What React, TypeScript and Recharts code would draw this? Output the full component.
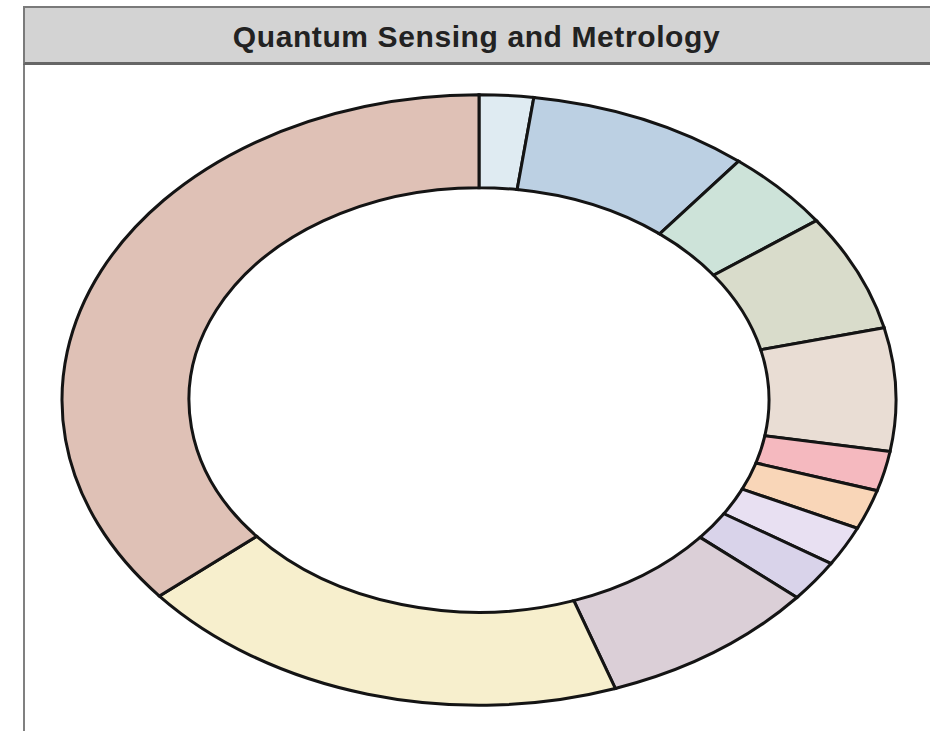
import React from 'react';
import { PieChart, Pie, Cell } from 'recharts';

const title = 'Quantum Sensing and Metrology';

// Segments, clockwise from 12 o'clock
const segments = [
  'Segment 1', 'Segment 2', 'Segment 3', 'Segment 4', 'Segment 5', 'Segment 6',
  'Segment 7', 'Segment 8', 'Segment 9', 'Segment 10', 'Segment 11', 'Segment 12',
];
const shares = [2.1, 8.6, 4.3, 6.2, 6.5, 2.1, 2.1, 2.1, 2.2, 8.5, 19.2, 36.1];
const colors = [
  '#dfebf2', '#bcd0e3', '#cde3d9', '#d9dccb', '#e9ddd4', '#f5b9bf',
  '#f9d6b8', '#e8e0f2', '#d9d3ea', '#dbcfd7', '#f7efcd', '#dfc1b6',
];

const data = segments.map((name, i) => ({ name, value: shares[i] }));

// The ring is squashed vertically into an ellipse; strokes keep their width.
const css = `
.ring .recharts-pie { transform-origin: 479px 400px; transform: scale(1, 0.732); }
.ring .recharts-sector { vector-effect: non-scaling-stroke; }
`;

export default function App() {
  return (
    <div
      style={{
        position: 'absolute',
        left: 0,
        top: 0,
        width: 930,
        height: 731,
        background: '#ffffff',
        overflow: 'hidden',
        fontFamily: '"Liberation Sans", Arial, sans-serif',
      }}
    >
      <style>{css}</style>
      <div className="ring" style={{ position: 'absolute', left: 0, top: 0 }}>
        <PieChart width={930} height={731} margin={{ top: 0, right: 0, bottom: 0, left: 0 }}>
          <Pie
            data={data}
            dataKey="value"
            nameKey="name"
            cx={479}
            cy={400}
            innerRadius={290}
            outerRadius={417}
            startAngle={90}
            endAngle={-270}
            stroke="#141414"
            strokeWidth={3}
            isAnimationActive={false}
          >
            {data.map((d, i) => (
              <Cell key={d.name} fill={colors[i]} />
            ))}
          </Pie>
        </PieChart>
      </div>
      {/* title bar */}
      <div
        style={{
          position: 'absolute',
          left: 23,
          top: 6,
          width: 920,
          height: 54,
          background: '#d3d3d3',
          borderTop: '2px solid #7a7a7a',
          borderBottom: '3px solid #666666',
          borderLeft: '2px solid #7a7a7a',
        }}
      />
      <div
        style={{
          position: 'absolute',
          left: 23,
          top: 20,
          width: 907,
          textAlign: 'center',
          fontSize: 30,
          lineHeight: '34px',
          fontWeight: 'bold',
          letterSpacing: 0.6,
          color: '#222222',
        }}
      >
        {title}
      </div>
      {/* panel left edge */}
      <div
        style={{
          position: 'absolute',
          left: 23,
          top: 65,
          width: 2,
          height: 666,
          background: '#808080',
        }}
      />
    </div>
  );
}
